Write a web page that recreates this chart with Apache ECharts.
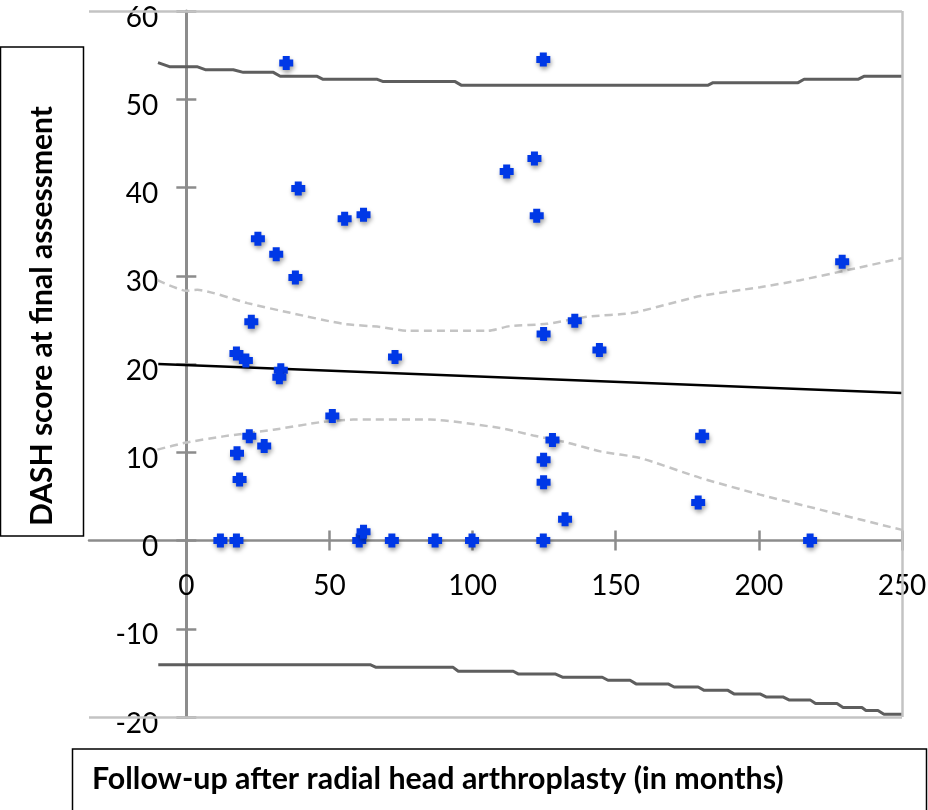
<!DOCTYPE html>
<html>
<head>
<meta charset="utf-8">
<script src="https://cdn.jsdelivr.net/npm/echarts@6/dist/echarts.min.js"></script>
<style>
html,body{margin:0;padding:0;background:#fff;}
#chart{width:928px;height:810px;}
</style>
</head>
<body>
<div id="chart"></div>
<script>
// ---- data ----
const xTicks = [0, 50, 100, 150, 200, 250];
const yTicks = [-20, -10, 0, 10, 20, 30, 40, 50, 60];
const xTitle = 'Follow-up after radial head arthroplasty (in months)';
const yTitle = 'DASH score at final assessment';

const followUp = [34.9, 124.7, 39.1, 111.9, 121.6, 122.4, 55.3, 61.9, 25.0, 31.4, 38.1, 22.7, 17.5, 20.8,
  33.0, 32.5, 72.9, 51.0, 22.0, 27.2, 17.7, 18.6, 124.8, 135.7, 144.3, 127.9, 124.8, 124.8, 132.3,
  180.2, 178.8, 229.1, 11.9, 17.5, 60.4, 61.9, 71.8, 86.9, 99.8, 124.7, 217.9];
const dashScore = [54.1, 54.5, 39.9, 41.8, 43.3, 36.8, 36.45, 36.9, 34.2, 32.45, 29.8, 24.8, 21.2, 20.4,
  19.3, 18.5, 20.8, 14.1, 11.8, 10.7, 9.9, 6.9, 23.4, 24.9, 21.6, 11.4, 9.15, 6.6, 2.4,
  11.8, 4.3, 31.6, 0, 0, 0, 1.0, 0, 0, 0, 0, 0];

const regressionX = [-9.8, 250];
const regressionY = [20.0, 16.7];

const upperCIX = [-10.1, 0, 3.8, 21.3, 36.3, 54.8, 67.7, 77.2, 105.4, 113.1, 126, 140, 156, 179.5, 200.4, 214.4, 231.8, 250];
const upperCIY = [29.5, 28.3, 28.4, 26.9, 25.8, 24.55, 24.2, 23.76, 23.76, 24.3, 24.55, 25.35, 25.8, 27.7, 28.7, 29.5, 30.7, 32.0];

const lowerCIX = [-10.1, 0, 12.9, 30.4, 47.8, 58.3, 85.2, 109.6, 121.2, 133, 144.6, 158.5, 179.5, 200.4, 221.4, 250];
const lowerCIY = [10.3, 11.1, 11.8, 12.55, 13.45, 13.7, 13.7, 12.75, 11.9, 11.1, 10.1, 9.35, 7.1, 5.2, 3.5, 1.2];

const upperPIX = [-9.9, -5.9, 3.7, 6.6, 16.4, 19.9, 30.4, 32.8, 45.7, 47.8, 66.7, 68.8, 93.9, 96, 182.3, 184, 213.7, 215.8, 234.6, 236.7, 250];
const upperPIY = [54.15, 53.69, 53.69, 53.35, 53.35, 53.05, 53.05, 52.6, 52.6, 52.26, 52.26, 52.0, 52.0, 51.6, 51.6, 51.88, 51.88, 52.26, 52.26, 52.6, 52.6];

const lowerPIX = [-9.8, 64.2, 66.3, 93.2, 95, 114.2, 115.9, 128.8, 131.6, 145.3, 147.3, 155, 157.1, 168.3, 170.4, 178.8,
  180.9, 189.2, 191.3, 200.4, 202.5, 208.4, 210.5, 217.9, 219.8, 227.3, 229.4, 236, 237.4, 241.6, 243.7, 250];
const lowerPIY = [-14.07, -14.07, -14.37, -14.37, -14.82, -14.82, -15.12, -15.12, -15.5, -15.5, -15.84, -15.84, -16.25, -16.25, -16.6, -16.6,
  -16.98, -16.98, -17.38, -17.38, -17.72, -17.72, -18.06, -18.06, -18.48, -18.48, -18.93, -18.93, -19.27, -19.27, -19.69, -19.69];

// ---- build ----
const zip = (xs, ys) => xs.map((x, i) => [x, ys[i]]);
const FONT = 'Lato';
const AXIS_GRAY = '#8c8c8c';
const BORDER_GRAY = '#c3c3c3';

const X_MIN = -34, X_MAX = 250, Y_MIN = -20, Y_MAX = 60;
const GRID = { left: 89, right: 26, top: 11, bottom: 93 };
const plotW = 928 - GRID.left - GRID.right;
const plotH = 810 - GRID.top - GRID.bottom;
// distance of the zero lines from the grid edges (so axes cross at 0,0)
const yAxisOffset = -((0 - X_MIN) / (X_MAX - X_MIN)) * plotW;
const xAxisOffset = -((0 - Y_MIN) / (Y_MAX - Y_MIN)) * plotH;

const baseX = {
  type: 'value', min: X_MIN, max: X_MAX, position: 'bottom', offset: xAxisOffset,
  splitLine: { show: false }
};
const baseY = {
  type: 'value', min: Y_MIN, max: Y_MAX, interval: 10, position: 'left', offset: yAxisOffset,
  splitLine: { show: false }
};

const chart = echarts.init(document.getElementById('chart'));
chart.setOption({
  animation: false,
  backgroundColor: '#fff',
  grid: Object.assign({ containLabel: false, outerBoundsMode: 'none' }, GRID),
  xAxis: [
    Object.assign({}, baseX, {
      axisLine: { show: true, onZero: false, lineStyle: { color: AXIS_GRAY, width: 2.5 } },
      axisTick: { show: true, inside: false, length: 10, customValues: xTicks, lineStyle: { color: AXIS_GRAY, width: 2.5 } },
      axisLabel: { show: true, customValues: xTicks, margin: 31, fontFamily: FONT, fontSize: 28, color: '#000',
        formatter: v => String(v) }
    }),
    Object.assign({}, baseX, {
      axisLine: { show: false, onZero: false },
      axisTick: { show: true, inside: true, length: 10, customValues: xTicks, lineStyle: { color: AXIS_GRAY, width: 2.5 } },
      axisLabel: { show: false }
    })
  ],
  yAxis: [
    Object.assign({}, baseY, {
      axisLine: { show: true, onZero: false, lineStyle: { color: AXIS_GRAY, width: 3 } },
      axisTick: { show: true, inside: false, length: 10, lineStyle: { color: AXIS_GRAY, width: 2.5 } },
      axisLabel: { show: true, margin: 28, fontFamily: FONT, fontSize: 28, color: '#000',
        verticalAlign: 'top', lineHeight: 13,
        formatter: v => String(v) }
    }),
    Object.assign({}, baseY, {
      axisLine: { show: false, onZero: false },
      axisTick: { show: true, inside: true, length: 10, lineStyle: { color: AXIS_GRAY, width: 2.5 } },
      axisLabel: { show: false }
    })
  ],
  series: [
    {
      type: 'line', name: 'frame', data: [], silent: true,
      markLine: {
        silent: true, symbol: 'none', label: { show: false },
        lineStyle: { color: BORDER_GRAY, width: 2.5, type: 'solid' },
        data: [{ yAxis: 60 }, { yAxis: -20 }, { xAxis: 250 }]
      }
    },
    {
      type: 'line', name: 'upper prediction', data: zip(upperPIX, upperPIY), showSymbol: false, z: 3,
      lineStyle: { color: '#5e5e5e', width: 3 }
    },
    {
      type: 'line', name: 'lower prediction', data: zip(lowerPIX, lowerPIY), showSymbol: false, z: 3,
      lineStyle: { color: '#5e5e5e', width: 3 }
    },
    {
      type: 'line', name: 'upper CI', data: zip(upperCIX, upperCIY), showSymbol: false, z: 3, smooth: 0.2,
      lineStyle: { color: '#c4c4c4', width: 2.5, type: [8, 5] }
    },
    {
      type: 'line', name: 'lower CI', data: zip(lowerCIX, lowerCIY), showSymbol: false, z: 3, smooth: 0.2,
      lineStyle: { color: '#c4c4c4', width: 2.5, type: [8, 5] }
    },
    {
      type: 'line', name: 'regression', data: zip(regressionX, regressionY), showSymbol: false, z: 4,
      lineStyle: { color: '#000', width: 2.5 }
    },
    {
      type: 'scatter', name: 'patients', data: zip(followUp, dashScore), z: 10,
      symbol: 'path://M2.5,0H7.5V2.5H10V7.5H7.5V10H2.5V7.5H0V2.5H2.5Z', symbolSize: 14,
      itemStyle: { color: '#0038e6', opacity: 1, shadowColor: 'rgba(0,0,0,0.35)', shadowBlur: 4, shadowOffsetX: 1, shadowOffsetY: 3 }
    }
  ],
  graphic: [
    { type: 'rect', shape: { x: 0.5, y: 47, width: 83, height: 489 }, style: { fill: '#fff', stroke: '#000', lineWidth: 1.5 }, z: 100 },
    { type: 'text', x: 42, y: 316, rotation: Math.PI / 2, z: 101,
      style: { text: yTitle, fontFamily: FONT, fontWeight: 'bold', fontSize: 30, fill: '#000', align: 'center', verticalAlign: 'middle' } },
    { type: 'rect', shape: { x: 72.5, y: 749, width: 854, height: 70 }, style: { fill: '#fff', stroke: '#000', lineWidth: 1.5 }, z: 100 },
    { type: 'text', x: 92, y: 779, z: 101,
      style: { text: xTitle, fontFamily: FONT, fontWeight: 'bold', fontSize: 30.4, fill: '#000', align: 'left', verticalAlign: 'middle' } }
  ]
});
</script>
</body>
</html>
